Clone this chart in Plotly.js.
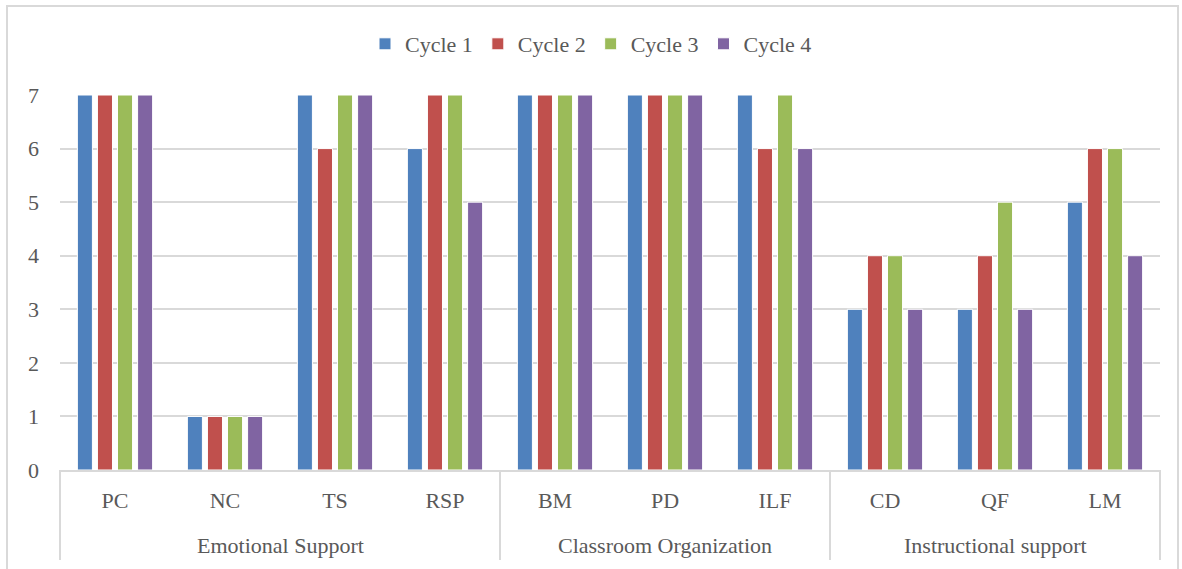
<!DOCTYPE html>
<html><head><meta charset="utf-8">
<script src="https://cdn.plot.ly/plotly-3.0.1.min.js"></script>
<style>html,body{margin:0;padding:0;background:#fff;}#wrap{position:relative;width:1182px;height:569px;overflow:hidden}#chart{width:1182px;height:569px}#frame{position:absolute;left:6px;top:5px;width:1169px;height:580px;border:2px solid #d9d9d9;pointer-events:none}</style>
</head><body><div id="wrap"><div id="chart"></div><div id="frame"></div></div>
<script>
const groups = ["Emotional Support","Emotional Support","Emotional Support","Emotional Support","Classroom Organization","Classroom Organization","Classroom Organization","Instructional support","Instructional support","Instructional support"];
const categories = ["PC","NC","TS","RSP","BM","PD","ILF","CD","QF","LM"];
const seriesNames = ["Cycle 1","Cycle 2","Cycle 3","Cycle 4"];
const cycle1 = [7,1,7,6,7,7,7,3,3,5];
const cycle2 = [7,1,6,7,7,7,6,4,4,6];
const cycle3 = [7,1,7,7,7,7,7,4,5,6];
const cycle4 = [7,1,7,5,7,7,6,3,3,4];
const colors = ["#4F81BD","#C0504D","#9BBB59","#8064A2"];
const values = [cycle1,cycle2,cycle3,cycle4];
const font = "Liberation Serif, serif";
const txt = "#595959", line = "#d9d9d9";
const traces = values.map((v,i)=>({type:"bar",name:seriesNames[i],x:categories,y:v,marker:{color:colors[i],line:{color:"#fff",width:1}}}));

// group spans from the groups array
const spans = [];
groups.forEach((g,i)=>{ if(!spans.length || spans[spans.length-1].name!==g) spans.push({name:g,start:i,end:i}); else spans[spans.length-1].end=i; });
const n = categories.length;
const annotations = spans.map(s=>({xref:"paper",yref:"paper",x:((s.start+s.end+1)/2)/n,y:-0.2,text:s.name,showarrow:false,xanchor:"center",yanchor:"middle",font:{family:font,size:22,color:txt}}));
const bounds = [0].concat(spans.map(s=>(s.end+1)/n));
const shapes = bounds.map(b=>({type:"line",xref:"paper",yref:"paper",x0:b,x1:b,y0:0,y1:-0.24,line:{color:line,width:2}}));

Plotly.newPlot("chart",traces,{
  width:1182,height:569,
  margin:{l:60,r:22,t:95,b:99},
  paper_bgcolor:"#fff",plot_bgcolor:"#fff",
  barmode:"group",bargap:0.27,bargroupgap:0.25,
  font:{family:font,size:22,color:txt},
  legend:{orientation:"h",x:0.5,xanchor:"center",xref:"container",yref:"container",y:1-44/569,yanchor:"middle",font:{family:font,size:22,color:txt},traceorder:"normal"},
  xaxis:{type:"category",showline:true,linecolor:line,linewidth:2,ticks:"",ticklabelstandoff:10,tickfont:{family:font,size:22,color:txt}},
  yaxis:{range:[0,7],dtick:1,showgrid:true,gridcolor:line,gridwidth:2,zeroline:false,ticks:"",ticklabelstandoff:20,tickfont:{family:font,size:22,color:txt}},
  annotations:annotations,
  shapes:shapes
},{displayModeBar:false,staticPlot:true});
</script></body></html>
